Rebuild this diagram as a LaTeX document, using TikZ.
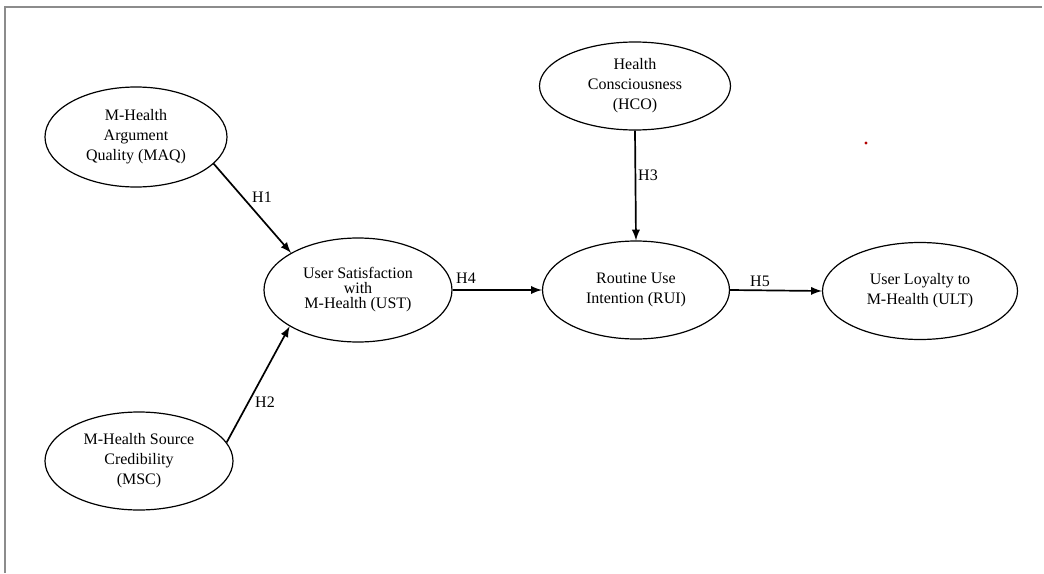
\documentclass[tikz,border=0pt]{standalone}
\usepackage{fontspec}
\setmainfont{Liberation Serif}
\usetikzlibrary{shapes,arrows}

\tikzset{
  construct/.style={draw, ellipse, line width=.6pt, inner sep=0pt, align=center,
    font=\fontsize{8}{10}\selectfont},
  hyp/.style={line width=.85pt, -latex},
  hlabel/.style={font=\fontsize{8}{10}\selectfont}
}

\begin{document}
\begin{tikzpicture}[x=0.5pt,y=-0.5pt]
\useasboundingbox (0,0) rectangle (1044,573);
% frame
\draw[gray!90, line width=1.1pt] (5,573) -- (5,7) -- (1042,7);
% constructs
\node[construct, minimum width=91pt, minimum height=50pt] (MAQ) at (136,137) {M-Health\\Argument\\Quality (MAQ)};
\node[construct, minimum width=94pt, minimum height=49pt] (MSC) at (139,461) {M-Health Source\\Credibility\\(MSC)};
\node[construct, minimum width=94pt, minimum height=52pt, font=\fontsize{8}{7.5}\selectfont] (UST) at (358,290) {User Satisfaction\\with\\M-Health (UST)};
\node[construct, minimum width=95.5pt, minimum height=44pt] (HCO) at (635,86) {Health\\Consciousness\\(HCO)};
\node[construct, minimum width=93.5pt, minimum height=49pt] (RUI) at (636,290) {Routine Use\\Intention (RUI)};
\node[construct, minimum width=97.5pt, minimum height=48.5pt] (ULT) at (920,291) {User Loyalty to\\M-Health (ULT)};
% hypotheses
\draw[hyp] (MAQ.-19) -- (UST.151);
\draw[hyp] (MSC.12) -- (UST.208);
\draw[hyp] (UST.east) -- (RUI.west);
\draw[hyp] (HCO.south) -- (RUI.north);
\draw[hyp] (RUI.east) -- (ULT.west);
\node[hlabel] (h1) at (262,197) {H1};
\node[hlabel] (h2) at (265,402) {H2};
\node[hlabel] (h3) at (648,175) {H3};
\node[hlabel] (h4) at (466,278) {H4};
\node[hlabel] (h5) at (760,281) {H5};
% stray dot
\fill[red!70!black] (866,143) circle (0.8pt);
\end{tikzpicture}
\end{document}
